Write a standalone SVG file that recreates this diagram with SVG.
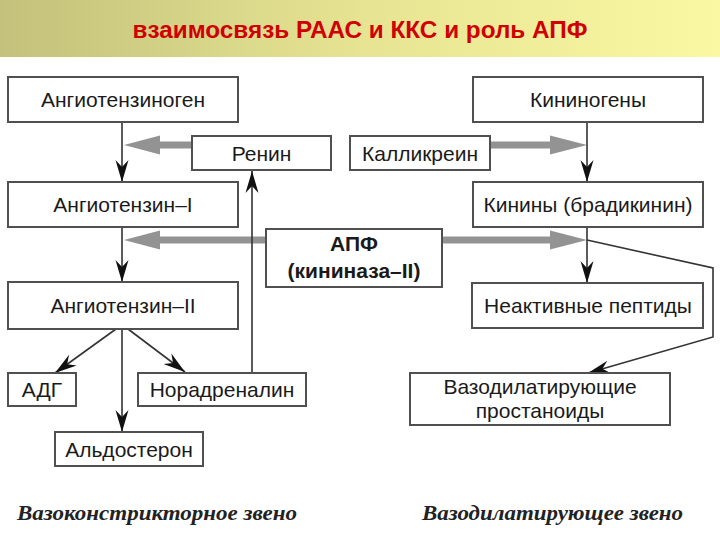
<svg xmlns="http://www.w3.org/2000/svg" width="720" height="540" viewBox="0 0 720 540">
<style>
.box{fill:#ffffff;stroke:#505050;stroke-width:2}
.t{font-family:"Liberation Sans",Arial,sans-serif;font-size:21px;fill:#1a1a1a;text-anchor:middle}
.b{font-weight:bold}
.ln{fill:none;stroke:#333333;stroke-width:1.6;marker-end:url(#ah)}
.g{fill:#939393}
.cap{font-family:"Liberation Serif","Times New Roman",serif;font-style:italic;font-weight:bold;font-size:21px;fill:#222222}
</style>
<defs>
<linearGradient id="band" x1="0" y1="0" x2="1" y2="0">
<stop offset="0" stop-color="#c3c17b"/>
<stop offset="0.5" stop-color="#e6e492"/>
<stop offset="1" stop-color="#fbf8a3"/>
</linearGradient>
<marker id="ah" viewBox="-24 -8 26 16" refX="0" refY="0" markerWidth="26" markerHeight="16" markerUnits="userSpaceOnUse" orient="auto">
<path d="M0,0 L-22,-6.5 L-15,0 L-22,6.5 Z" fill="#111111"/>
</marker>
</defs>
<rect x="0" y="0" width="720" height="57" fill="url(#band)"/>
<text x="360" y="38" font-family="'Liberation Sans',Arial,sans-serif" font-size="23" font-weight="bold" fill="#d00000" text-anchor="middle" textLength="455" lengthAdjust="spacingAndGlyphs">взаимосвязь РААС и ККС и роль АПФ</text>

<g id="connectors">
<polygon class="g" points="192,141.5 160,141.5 160,135.5 124,145 160,154.5 160,148.5 192,148.5"/>
<polygon class="g" points="490,141.5 550,141.5 550,135.5 587,145 550,154.5 550,148.5 490,148.5"/>
<polygon class="g" points="266,236.5 160,236.5 160,230.5 124,240 160,249.5 160,243.5 266,243.5"/>
<polygon class="g" points="442,236.5 550,236.5 550,230.5 587,240 550,249.5 550,243.5 442,243.5"/>
<path class="ln" d="M122,122 V182"/>
<path class="ln" d="M122,227 V282"/>
<path class="ln" d="M122,329 V432"/>
<path class="ln" d="M116,329 L55,373"/>
<path class="ln" d="M128,329 L185,372"/>
<path class="ln" d="M252,373 V171"/>
<path class="ln" d="M587,122 V182"/>
<path class="ln" d="M587,227 V283"/>
<path class="ln" d="M587,240 L713,268 V337 L588,373"/>
</g>

<g id="angiotensinogen"><rect class="box" x="8" y="77" width="230" height="45"/><text class="t" x="123" y="107">Ангиотензиноген</text></g>
<g id="renin"><rect class="box" x="192" y="136" width="139" height="34"/><text class="t" x="261.5" y="160.5">Ренин</text></g>
<g id="kallikrein"><rect class="box" x="350" y="136" width="140" height="34"/><text class="t" x="420" y="160.5">Калликреин</text></g>
<g id="kininogens"><rect class="box" x="473" y="77" width="230" height="45"/><text class="t" x="588" y="107">Кининогены</text></g>
<g id="angiotensin1"><rect class="box" x="8" y="182" width="230" height="45"/><text class="t" x="123" y="212">Ангиотензин–I</text></g>
<g id="kinins"><rect class="box" x="473" y="182" width="230" height="45"/><text class="t" x="588" y="212">Кинины (брадикинин)</text></g>
<g id="ace"><rect class="box" x="266" y="229" width="176" height="58"/><text class="t b" x="354" y="251">АПФ</text><text class="t b" x="354" y="278">(кининаза–II)</text></g>
<g id="angiotensin2"><rect class="box" x="8" y="282" width="230" height="47"/><text class="t" x="123" y="313">Ангиотензин–II</text></g>
<g id="inactive"><rect class="box" x="472" y="283" width="231" height="45"/><text class="t" x="588" y="313">Неактивные пептиды</text></g>
<g id="adh"><rect class="box" x="8" y="373" width="68" height="33"/><text class="t" x="42" y="397">АДГ</text></g>
<g id="noradrenaline"><rect class="box" x="138" y="373" width="168" height="33"/><text class="t" x="222" y="397">Норадреналин</text></g>
<g id="aldosterone"><rect class="box" x="55" y="432" width="148" height="34"/><text class="t" x="129" y="457">Альдостерон</text></g>
<g id="prostanoids"><rect class="box" x="410" y="373" width="260" height="52"/><text class="t" x="540" y="394">Вазодилатирующие</text><text class="t" x="540" y="418">простаноиды</text></g>

<text class="cap" x="17" y="520" textLength="280" lengthAdjust="spacingAndGlyphs">Вазоконстрикторное звено</text>
<text class="cap" x="422" y="520" textLength="261" lengthAdjust="spacingAndGlyphs">Вазодилатирующее звено</text>
</svg>
